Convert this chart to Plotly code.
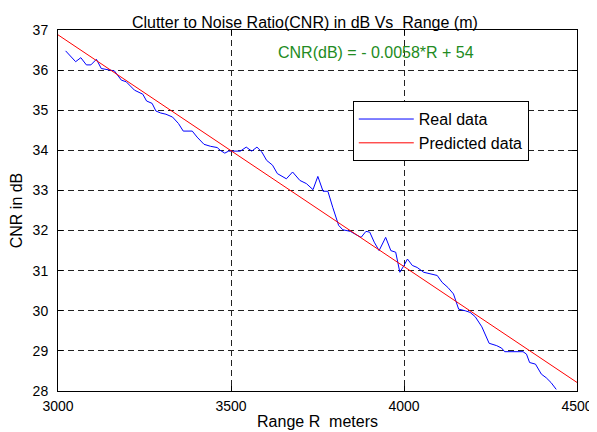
import plotly.graph_objects as go

# Real data (Range in m, CNR in dB)
range_m = [3022, 3051, 3066, 3082, 3095, 3111, 3125, 3149, 3163, 3183, 3197, 3221, 3235, 3245,
           3256, 3272, 3283, 3297, 3312, 3331, 3348, 3362, 3388, 3402, 3422, 3441, 3460, 3469,
           3482, 3493, 3527, 3544, 3560, 3575, 3589, 3603, 3620, 3634, 3660, 3678, 3699, 3718,
           3737, 3751, 3766, 3780, 3794, 3811, 3823, 3845, 3861, 3876, 3890, 3901, 3914, 3928,
           3947, 3962, 3976, 3988, 4000, 4010, 4024, 4038, 4057, 4076, 4096, 4110, 4127, 4143,
           4158, 4177, 4191, 4206, 4225, 4246, 4268, 4282, 4291, 4344, 4354, 4363, 4380, 4397,
           4411, 4425, 4440]
cnr_db = [36.48, 36.21, 36.31, 36.13, 36.13, 36.27, 36.04, 36.00, 35.98, 35.75, 35.71, 35.50, 35.44, 35.40,
          35.23, 35.17, 34.98, 34.93, 34.90, 34.83, 34.67, 34.48, 34.48, 34.33, 34.15, 34.10, 34.07, 34.00,
          33.93, 33.98, 33.98, 34.08, 33.98, 34.08, 33.96, 33.75, 33.63, 33.42, 33.29, 33.46, 33.25, 33.17,
          33.02, 33.35, 32.98, 32.98, 32.58, 32.13, 32.02, 31.98, 31.90, 31.83, 31.98, 31.96, 31.71, 31.50,
          31.83, 31.50, 31.46, 30.96, 31.13, 31.29, 31.13, 31.08, 30.96, 30.92, 30.88, 30.71, 30.58, 30.42,
          30.04, 30.00, 29.96, 29.85, 29.60, 29.19, 29.13, 29.07, 28.98, 28.98, 28.92, 28.71, 28.67, 28.42,
          28.33, 28.21, 28.04]

# Predicted (linear fit) line
pred_range = [3000, 4500]
fit_slope = -0.005777
fit_intercept = 54.21
pred_cnr = [fit_slope * r + fit_intercept for r in pred_range]

x_ticks = [3000, 3500, 4000, 4500]
y_ticks = [28, 29, 30, 31, 32, 33, 34, 35, 36, 37]

font_family = "Liberation Sans, Arial, sans-serif"

fig = go.Figure()
fig.add_trace(go.Scatter(x=range_m, y=cnr_db, mode="lines", name="Real data",
                         line=dict(color="#0000ff", width=1)))
fig.add_trace(go.Scatter(x=pred_range, y=pred_cnr, mode="lines", name="Predicted data",
                         line=dict(color="#ff0000", width=1)))

axis_common = dict(
    showline=True, linecolor="black", linewidth=1, mirror="ticks",
    ticks="inside", ticklen=5, tickcolor="black",
    showgrid=True, gridcolor="#222222", gridwidth=1, griddash="6px,4px",
    zeroline=False, automargin=False, ticklabeloverflow="allow",
    tickfont=dict(family=font_family, size=14, color="black"),
)

fig.update_xaxes(range=[3000, 4500], tickvals=x_ticks, ticktext=[str(v) for v in x_ticks],
                 title=dict(text="Range R  meters", font=dict(family=font_family, size=16, color="black"),
                            standoff=3),
                 ticklabelstandoff=2,
                 **axis_common)
fig.update_yaxes(range=[28, 37], tickvals=y_ticks, ticktext=[str(v) for v in y_ticks],
                 title=dict(text="CNR in dB", font=dict(family=font_family, size=16, color="black"),
                            standoff=9),
                 ticklabelstandoff=6,
                 **axis_common)

fig.add_annotation(x=3918, y=36.45, text="CNR(dB) = - 0.0058*R + 54", showarrow=False,
                   font=dict(family=font_family, size=16, color="#228B22"))

# page body has an 8px default margin, so the figure is sized/offset to compensate
fig.update_layout(
    width=589, height=424,
    margin=dict(l=50, r=20, t=22, b=41),
    paper_bgcolor="white", plot_bgcolor="white",
    title=dict(text="Clutter to Noise Ratio(CNR) in dB Vs  Range (m)", x=0.504, xanchor="center",
               y=0.967, yanchor="middle", font=dict(family=font_family, size=16, color="black")),
    legend=dict(x=0.568, y=0.803, xanchor="left", yanchor="top", bgcolor="white",
                bordercolor="black", borderwidth=1,
                font=dict(family=font_family, size=16, color="black"),
                tracegroupgap=0, itemwidth=55),
    showlegend=True,
)

fig.write_html("out.html")
